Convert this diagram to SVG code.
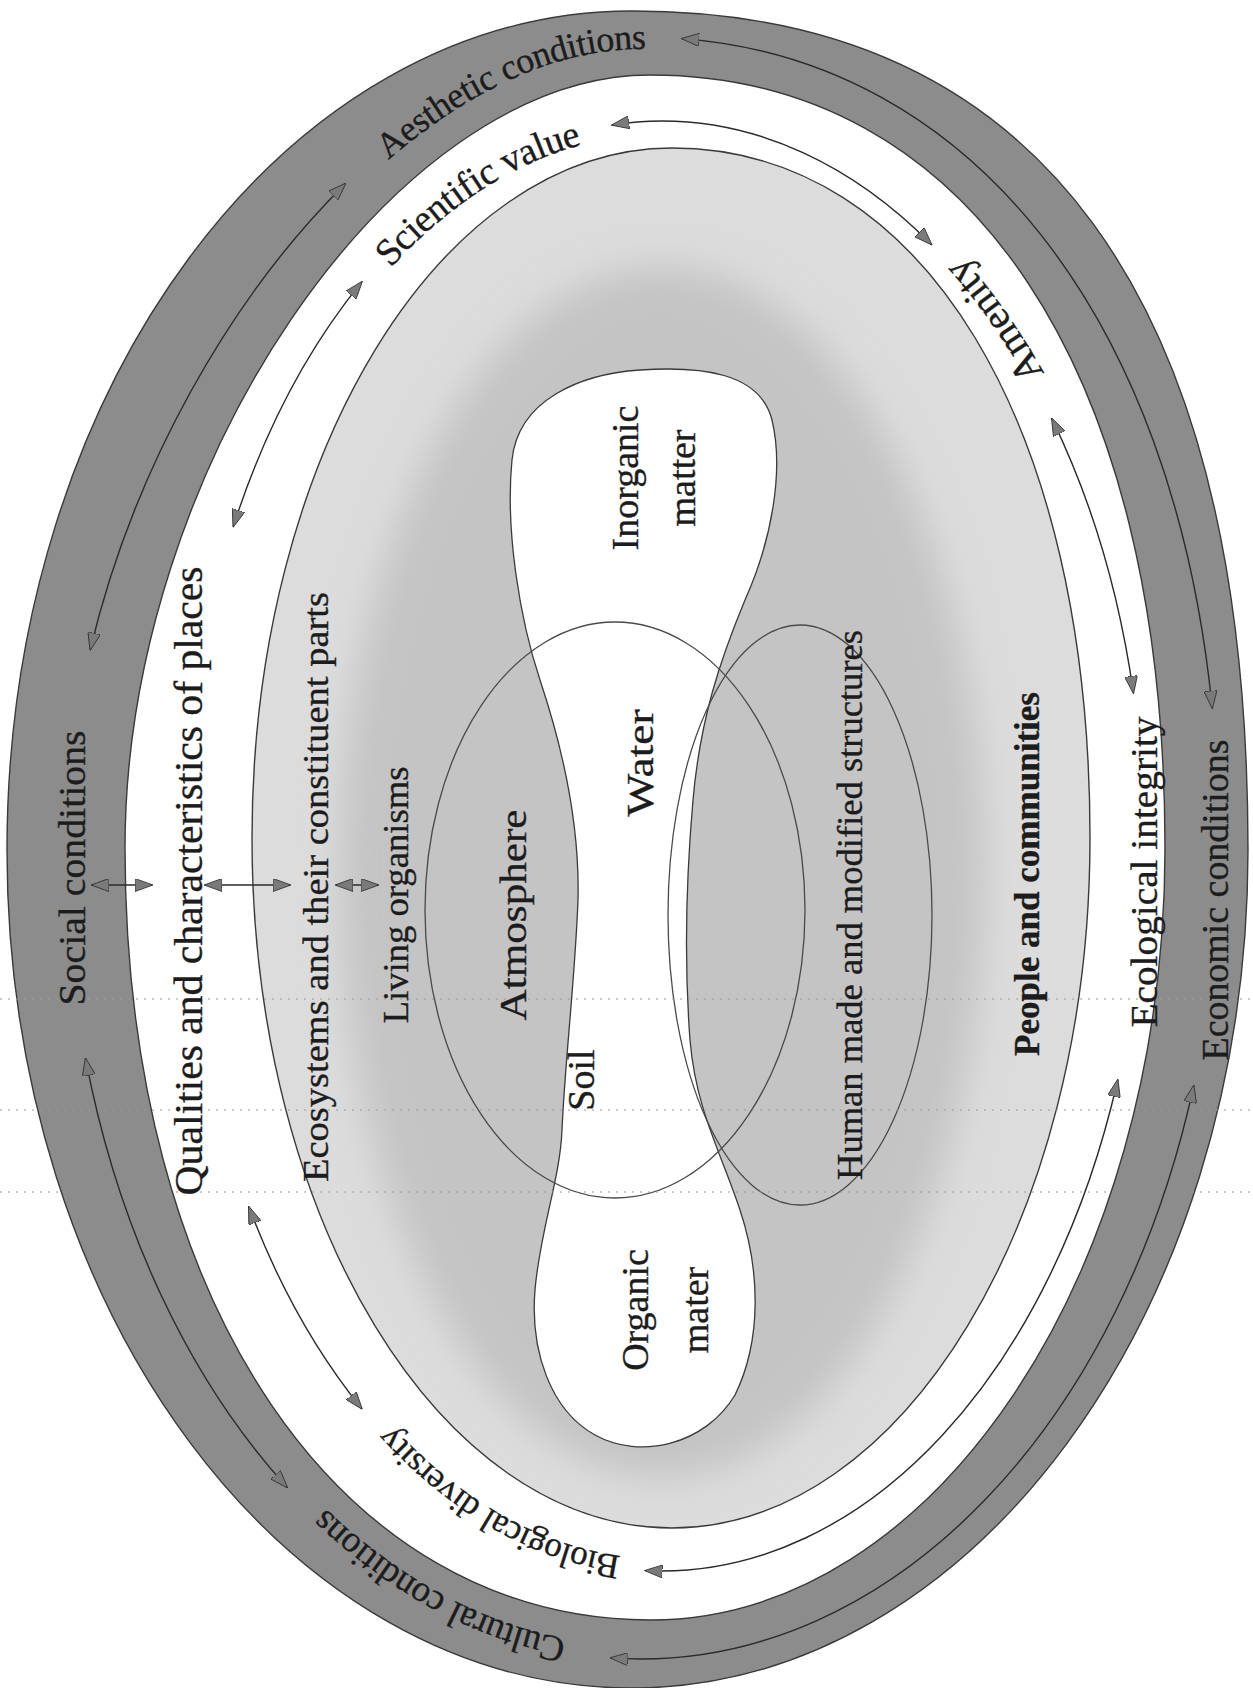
<svg xmlns="http://www.w3.org/2000/svg" width="1253" height="1688" viewBox="0 0 1253 1688">
<style>
 .lbl{font-family:"Liberation Serif","Times New Roman",serif;fill:#1c1c1c;stroke:#1c1c1c;stroke-width:0.35;text-anchor:middle;dominant-baseline:central}
 .arc{fill:none;stroke:#2a2a2a;stroke-width:1.4;marker-start:url(#ah);marker-end:url(#ah)}
 .edge{stroke:#3a3a3a;stroke-width:1.4}
 .scan{stroke:#9a9a9a;stroke-width:1;stroke-dasharray:2 6;fill:none}
</style>
<defs>
 <marker id="ah" viewBox="0 0 18 13" refX="17" refY="6.5" markerWidth="18" markerHeight="13" markerUnits="userSpaceOnUse" orient="auto-start-reverse">
  <path d="M0,0 L18,6.5 L0,13 Z" fill="#7a7a7a" stroke="#2a2a2a" stroke-width="0.8"/>
 </marker>
 <filter id="blur" x="-20%" y="-20%" width="140%" height="140%"><feGaussianBlur stdDeviation="18"/></filter>
 <path id="pAes" d="M364.2 165.6 C450.7 85.8 547.2 37 641 37 L668 37.6"/>
 <path id="pCul" d="M571 1652.9 A575 810 0 0 1 311.2 1512.6"/>
 <path id="pSci" d="M374.9 266.4 A477 722 0 0 1 587.4 129.9"/>
 <path id="pAme" d="M1036.6 388.6 A482 722 0 0 0 945.3 258.9"/>
 <path id="pBio" d="M620.4 1568.2 A477 728 0 0 1 381.6 1432"/>
</defs>
<rect width="1253" height="1688" fill="#ffffff"/>

<g id="outer-band">
 <path class="edge" fill="#8c8c8c" d="M632 11 C1038.6 11 1248 296.3 1248 850 C1248 1312.8 972.2 1688 632 1688 C286.8 1688 7 1312.8 7 850 C7 386.6 286.8 11 632 11 Z"/>
</g>
<g id="white-ring">
 <path class="edge" fill="#ffffff" d="M650 75 C969.3 75 1165 368.7 1165 848 C1165 1274.4 934.4 1620 650 1620 C340.3 1620 125 1303.5 125 848 C125 469.2 392.8 75 650 75 Z"/>
</g>
<g id="ecosystems">
 <path class="edge" fill="#dcdcdc" d="M672 148 C922.8 148 1090 424 1090 838 C1090 1219.1 902.9 1528 672 1528 C440 1528 252 1219.1 252 838 C252 456.9 440 148 672 148 Z"/>
</g>
<g id="living-organisms">
 <ellipse cx="662" cy="872" rx="322" ry="605" fill="#c4c4c4" filter="url(#blur)"/>
</g>
<g id="matter">
 <path d="M640 370 C700 366 760 372 772 420 C784 470 772 540 745 600 C720 660 700 720 693 800 C686 880 684 960 690 1040 C696 1110 720 1150 740 1210 C760 1270 762 1340 735 1395 C705 1445 640 1460 595 1435 C550 1410 530 1350 535 1290 C540 1230 560 1180 562 1130 C565 1060 575 980 578 900 C580 820 560 740 540 680 C520 620 505 530 512 460 C518 400 580 374 640 370 Z" fill="#ffffff" stroke="#3a3a3a" stroke-width="1.3"/>
</g>
<g id="atmosphere">
 <ellipse cx="615" cy="910" rx="190" ry="288" fill="none" stroke="#4a4a4a" stroke-width="1.3"/>
</g>
<g id="human-structures">
 <ellipse cx="800" cy="915" rx="132" ry="290" fill="none" stroke="#4a4a4a" stroke-width="1.3"/>
</g>

<g id="scan-lines">
 <line class="scan" x1="0" y1="999" x2="1253" y2="999"/>
 <line class="scan" x1="0" y1="1110" x2="1253" y2="1110"/>
 <line class="scan" x1="0" y1="1192" x2="1253" y2="1192"/>
</g>

<g id="connectors">
 <path class="arc" d="M90.3 649.6 C133.3 469.4 229.1 298.8 345.3 183.7"/>
 <path class="arc" d="M682.1 38.6 C972.2 60.7 1173.4 318.2 1212.2 707.9"/>
 <path class="arc" d="M1193.7 1085.8 A578 810 0 0 1 641 1659 A575 810 0 0 1 610.9 1657.9"/>
 <path class="arc" d="M287 1487.3 A575 810 0 0 1 85.6 1058.6"/>
 <path class="arc" d="M233.3 526.5 A477 722 0 0 1 361.8 281.9"/>
 <path class="arc" d="M612.2 125 A477 722 0 0 1 662 121 A482 722 0 0 1 931.5 244.5"/>
 <path class="arc" d="M1051.9 418.6 A482 722 0 0 1 1133.4 692.9"/>
 <path class="arc" d="M1117.7 1080 A482 728 0 0 1 662 1571 A477 728 0 0 1 645.4 1570.6"/>
 <path class="arc" d="M361.8 1408.7 A477 728 0 0 1 248.9 1207"/>
 <line class="arc" x1="92" y1="885" x2="152" y2="885"/>
 <line class="arc" x1="205" y1="885" x2="290" y2="885"/>
 <line class="arc" x1="336" y1="885" x2="378" y2="885"/>
</g>

<g id="label-social"><text class="lbl" font-size="38" transform="translate(72 868) rotate(-90)" textLength="275" lengthAdjust="spacingAndGlyphs">Social conditions</text></g>
<g id="label-qualities"><text class="lbl" font-size="40" transform="translate(188 881) rotate(-90)" textLength="629" lengthAdjust="spacingAndGlyphs">Qualities and characteristics of places</text></g>
<g id="label-ecosystems"><text class="lbl" font-size="36" transform="translate(316 887) rotate(-90)" textLength="590" lengthAdjust="spacingAndGlyphs">Ecosystems and their constituent parts</text></g>
<g id="label-living"><text class="lbl" font-size="35" transform="translate(396 895) rotate(-90)" textLength="257" lengthAdjust="spacingAndGlyphs">Living organisms</text></g>
<g id="label-atmosphere"><text class="lbl" font-size="38" transform="translate(513 915) rotate(-90)" textLength="211" lengthAdjust="spacingAndGlyphs">Atmosphere</text></g>
<g id="label-water"><text class="lbl" font-size="38" transform="translate(640 763) rotate(-90)" textLength="107" lengthAdjust="spacingAndGlyphs">Water</text></g>
<g id="label-soil"><text class="lbl" font-size="38" transform="translate(581 1080) rotate(-90)">Soil</text></g>
<g id="label-inorganic">
 <text class="lbl" font-size="38" transform="translate(625 478) rotate(-90)">Inorganic</text>
 <text class="lbl" font-size="38" transform="translate(682 478) rotate(-90)">matter</text>
</g>
<g id="label-organic">
 <text class="lbl" font-size="38" transform="translate(635 1310) rotate(-90)">Organic</text>
 <text class="lbl" font-size="38" transform="translate(695 1310) rotate(-90)">mater</text>
</g>
<g id="label-human"><text class="lbl" font-size="36" transform="translate(850 905) rotate(-90)" textLength="550" lengthAdjust="spacingAndGlyphs">Human made and modified structures</text></g>
<g id="label-people"><text class="lbl" font-size="35" font-weight="bold" transform="translate(1027 874) rotate(-90)" textLength="364" lengthAdjust="spacingAndGlyphs">People and communities</text></g>
<g id="label-ecological"><text class="lbl" font-size="38" transform="translate(1144 872) rotate(-90)" textLength="311" lengthAdjust="spacingAndGlyphs">Ecological integrity</text></g>
<g id="label-economic"><text class="lbl" font-size="38" transform="translate(1215 900) rotate(-90)" textLength="321" lengthAdjust="spacingAndGlyphs">Economic conditions</text></g>
<g id="label-aesthetic"><text class="lbl" font-size="36"><textPath href="#pAes" startOffset="50%">Aesthetic conditions</textPath></text></g>
<g id="label-scientific"><text class="lbl" font-size="38"><textPath href="#pSci" startOffset="50%">Scientific value</textPath></text></g>
<g id="label-amenity"><text class="lbl" font-size="40"><textPath href="#pAme" startOffset="50%">Amenity</textPath></text></g>
<g id="label-biological"><text class="lbl" font-size="35"><textPath href="#pBio" startOffset="50%">Biological diversity</textPath></text></g>
<g id="label-cultural"><text class="lbl" font-size="37"><textPath href="#pCul" startOffset="50%">Cultural conditions</textPath></text></g>
</svg>
